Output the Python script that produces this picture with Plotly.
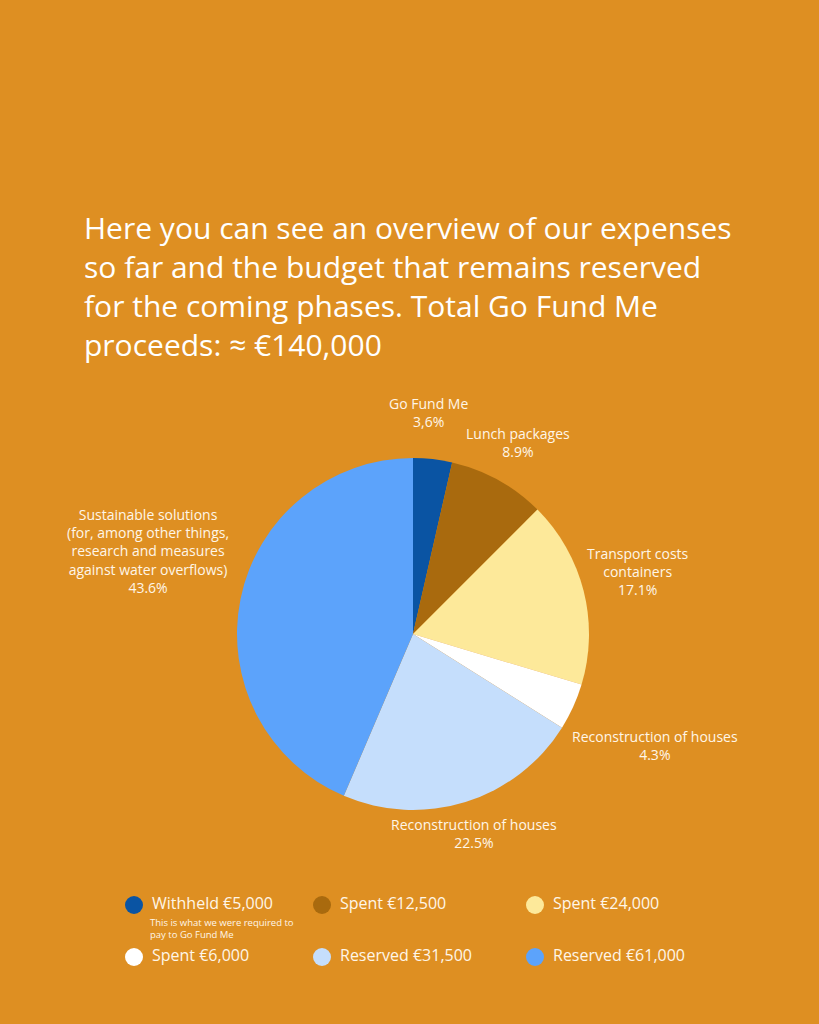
import plotly.graph_objects as go

# ---- data ----
legend_names = ["Withheld €5,000", "Spent €12,500", "Spent €24,000",
                "Spent €6,000", "Reserved €31,500", "Reserved €61,000"]
amounts = [5000, 12500, 24000, 6000, 31500, 61000]
slice_labels = ["Go Fund Me", "Lunch packages", "Transport costs<br>containers",
                "Reconstruction of houses", "Reconstruction of houses",
                "Sustainable solutions<br>(for, among other things,<br>research and measures<br>against water overflows)"]
pct_text = ["3,6%", "8.9%", "17.1%", "4.3%", "22.5%", "43.6%"]
colors = ["#0A54A3", "#A96A0E", "#FDE99A", "#FFFFFF", "#C5DEFC", "#5CA3FB"]
title_lines = ["Here you can see an overview of our expenses",
               "so far and the budget that remains reserved",
               "for the coming phases. Total Go Fund Me",
               "proceeds: ≈ €140,000"]
legend_note = "This is what we were required to<br>pay to Go Fund Me"

# ---- layout constants (pixels) ----
W, H = 819, 1024
BG = "#DE8F22"
FONT = "Open Sans"
TXT = "#FFF6E8"
label_pos = [(428, 412), (518, 442), (638, 571), (655, 745), (474, 833), (148, 551)]
col_x = [134, 322, 535]
row_y = [905, 957]

fig = go.Figure()

fig.add_trace(go.Pie(
    labels=legend_names, values=amounts,
    textinfo="none",
    marker=dict(colors=colors, line=dict(width=0)),
    sort=False, direction="clockwise", rotation=0,
    domain=dict(x=[237 / W, 589 / W], y=[(390 - 176) / H, (390 + 176) / H]),
    showlegend=False, hoverinfo="label+percent",
))

# slice labels
for (px, py), lab, pct in zip(label_pos, slice_labels, pct_text):
    fig.add_annotation(x=px, y=py, xref="x", yref="y",
                       text=f"{lab}<br>{pct}", showarrow=False,
                       xanchor="center", yanchor="middle", align="center",
                       font=dict(family=FONT, size=14, color=TXT))

# legend markers on an overlay pixel axis
lx = [col_x[i % 3] for i in range(6)]
ly = [row_y[i // 3] for i in range(6)]
fig.add_trace(go.Scatter(
    x=lx, y=ly, mode="markers", xaxis="x", yaxis="y",
    marker=dict(size=18, color=colors, line=dict(width=0)),
    showlegend=False, hoverinfo="skip",
))
for i, name in enumerate(legend_names):
    fig.add_annotation(x=lx[i] + 16, y=ly[i] - 2, xref="x", yref="y",
                       text=name, showarrow=False, xanchor="left", yanchor="middle",
                       font=dict(family=FONT, size=16, color=TXT))
fig.add_annotation(x=lx[0] + 14, y=ly[0] + 9, xref="x", yref="y",
                   text=legend_note, showarrow=False, xanchor="left", yanchor="top",
                   align="left", font=dict(family=FONT, size=9.5, color=TXT))

# title lines
for k, line in enumerate(title_lines):
    fig.add_annotation(x=82, y=227 + 39 * k, xref="x", yref="y",
                       text=line, showarrow=False, xanchor="left", yanchor="middle",
                       font=dict(family=FONT, size=30, color="#FFFFFF"))

fig.update_layout(
    width=W, height=H, margin=dict(l=0, r=0, t=0, b=0),
    paper_bgcolor=BG, plot_bgcolor=BG,
    xaxis=dict(range=[0, W], domain=[0, 1], visible=False, fixedrange=True),
    yaxis=dict(range=[H, 0], domain=[0, 1], visible=False, fixedrange=True),
)

fig.write_html("out.html", config={"displayModeBar": False},
               post_script="document.body.style.margin='0';document.body.style.background='%s';" % BG)
